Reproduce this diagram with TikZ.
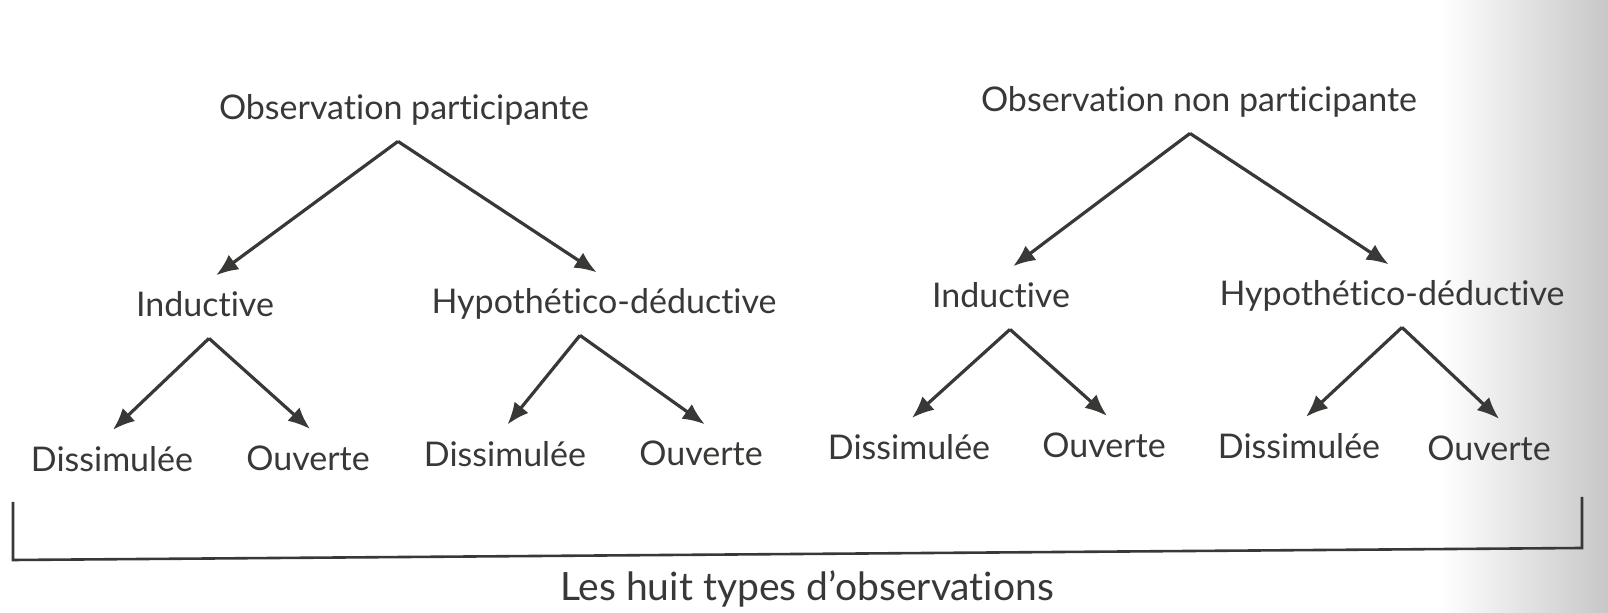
\documentclass[tikz,border=0pt]{standalone}
\usepackage{fontspec}
\setmainfont[Ligatures={NoCommon,NoRare,NoDiscretionary}]{Lato}
\usetikzlibrary{arrows.meta}
\definecolor{ink}{HTML}{383836}

\begin{document}
\begin{tikzpicture}[x=0.5pt, y=-0.5pt,
		every node/.style={font=\fontsize{17}{20}\selectfont, text=ink, inner sep=0pt, minimum height=30pt, text height=12pt, text depth=3pt},
		fl/.style={-{Latex[length=11pt,width=9pt]}, ink, line width=1.6pt, shorten >=2pt}]
		\useasboundingbox (0,0) rectangle (1608,613);
		\shade[left color=white, right color=black!22] (1440,0) rectangle (1608,613);

		\node (op) at (404,111) {Observation participante};
		\node (onp) at (1199,103) {Observation non participante};

		\node (ia) at (205,308) {Inductive};
		\node (ha) at (604,305) {Hypothético-déductive};
		\node (ib) at (1001,299) {Inductive};
		\node (hb) at (1392,297) {Hypothético-déductive};

		\node (d1) at (112,463) {Dissimulée};
		\node (o1) at (308,462) {Ouverte};
		\node (d2) at (505,458) {Dissimulée};
		\node (o2) at (701,457) {Ouverte};
		\node (d3) at (909,451) {Dissimulée};
		\node (o3) at (1104,449) {Ouverte};
		\node (d4) at (1299,450) {Dissimulée};
		\node (o4) at (1489,452) {Ouverte};

		\node[font=\fontsize{19.5}{22}\selectfont] (types) at (807,592) {Les huit types d'observations};

		\path[fl]
		([xshift=-3pt]op.south) edge ([xshift=4pt]ia.north) edge ([xshift=-2pt]ha.north)
		([xshift=-4.5pt]onp.south) edge ([xshift=4.5pt]ib.north) edge (hb.north)
		([xshift=2pt]ia.south) edge ([xshift=-1pt]d1.north) edge ([xshift=2.5pt]o1.north)
		([xshift=-12pt]ha.south) edge (d2.north) edge ([xshift=3.5pt]o2.north)
		([xshift=4.5pt]ib.south) edge (d3.north) edge ([xshift=3pt]o3.north)
		([xshift=5pt]hb.south) edge ([xshift=2pt]d4.north) edge ([xshift=6.5pt]o4.north);

		\draw[ink, line width=1.3pt] (13,502) -- (13,560) -- (1582,548) -- (1582,497);
	\end{tikzpicture}
\end{document}
